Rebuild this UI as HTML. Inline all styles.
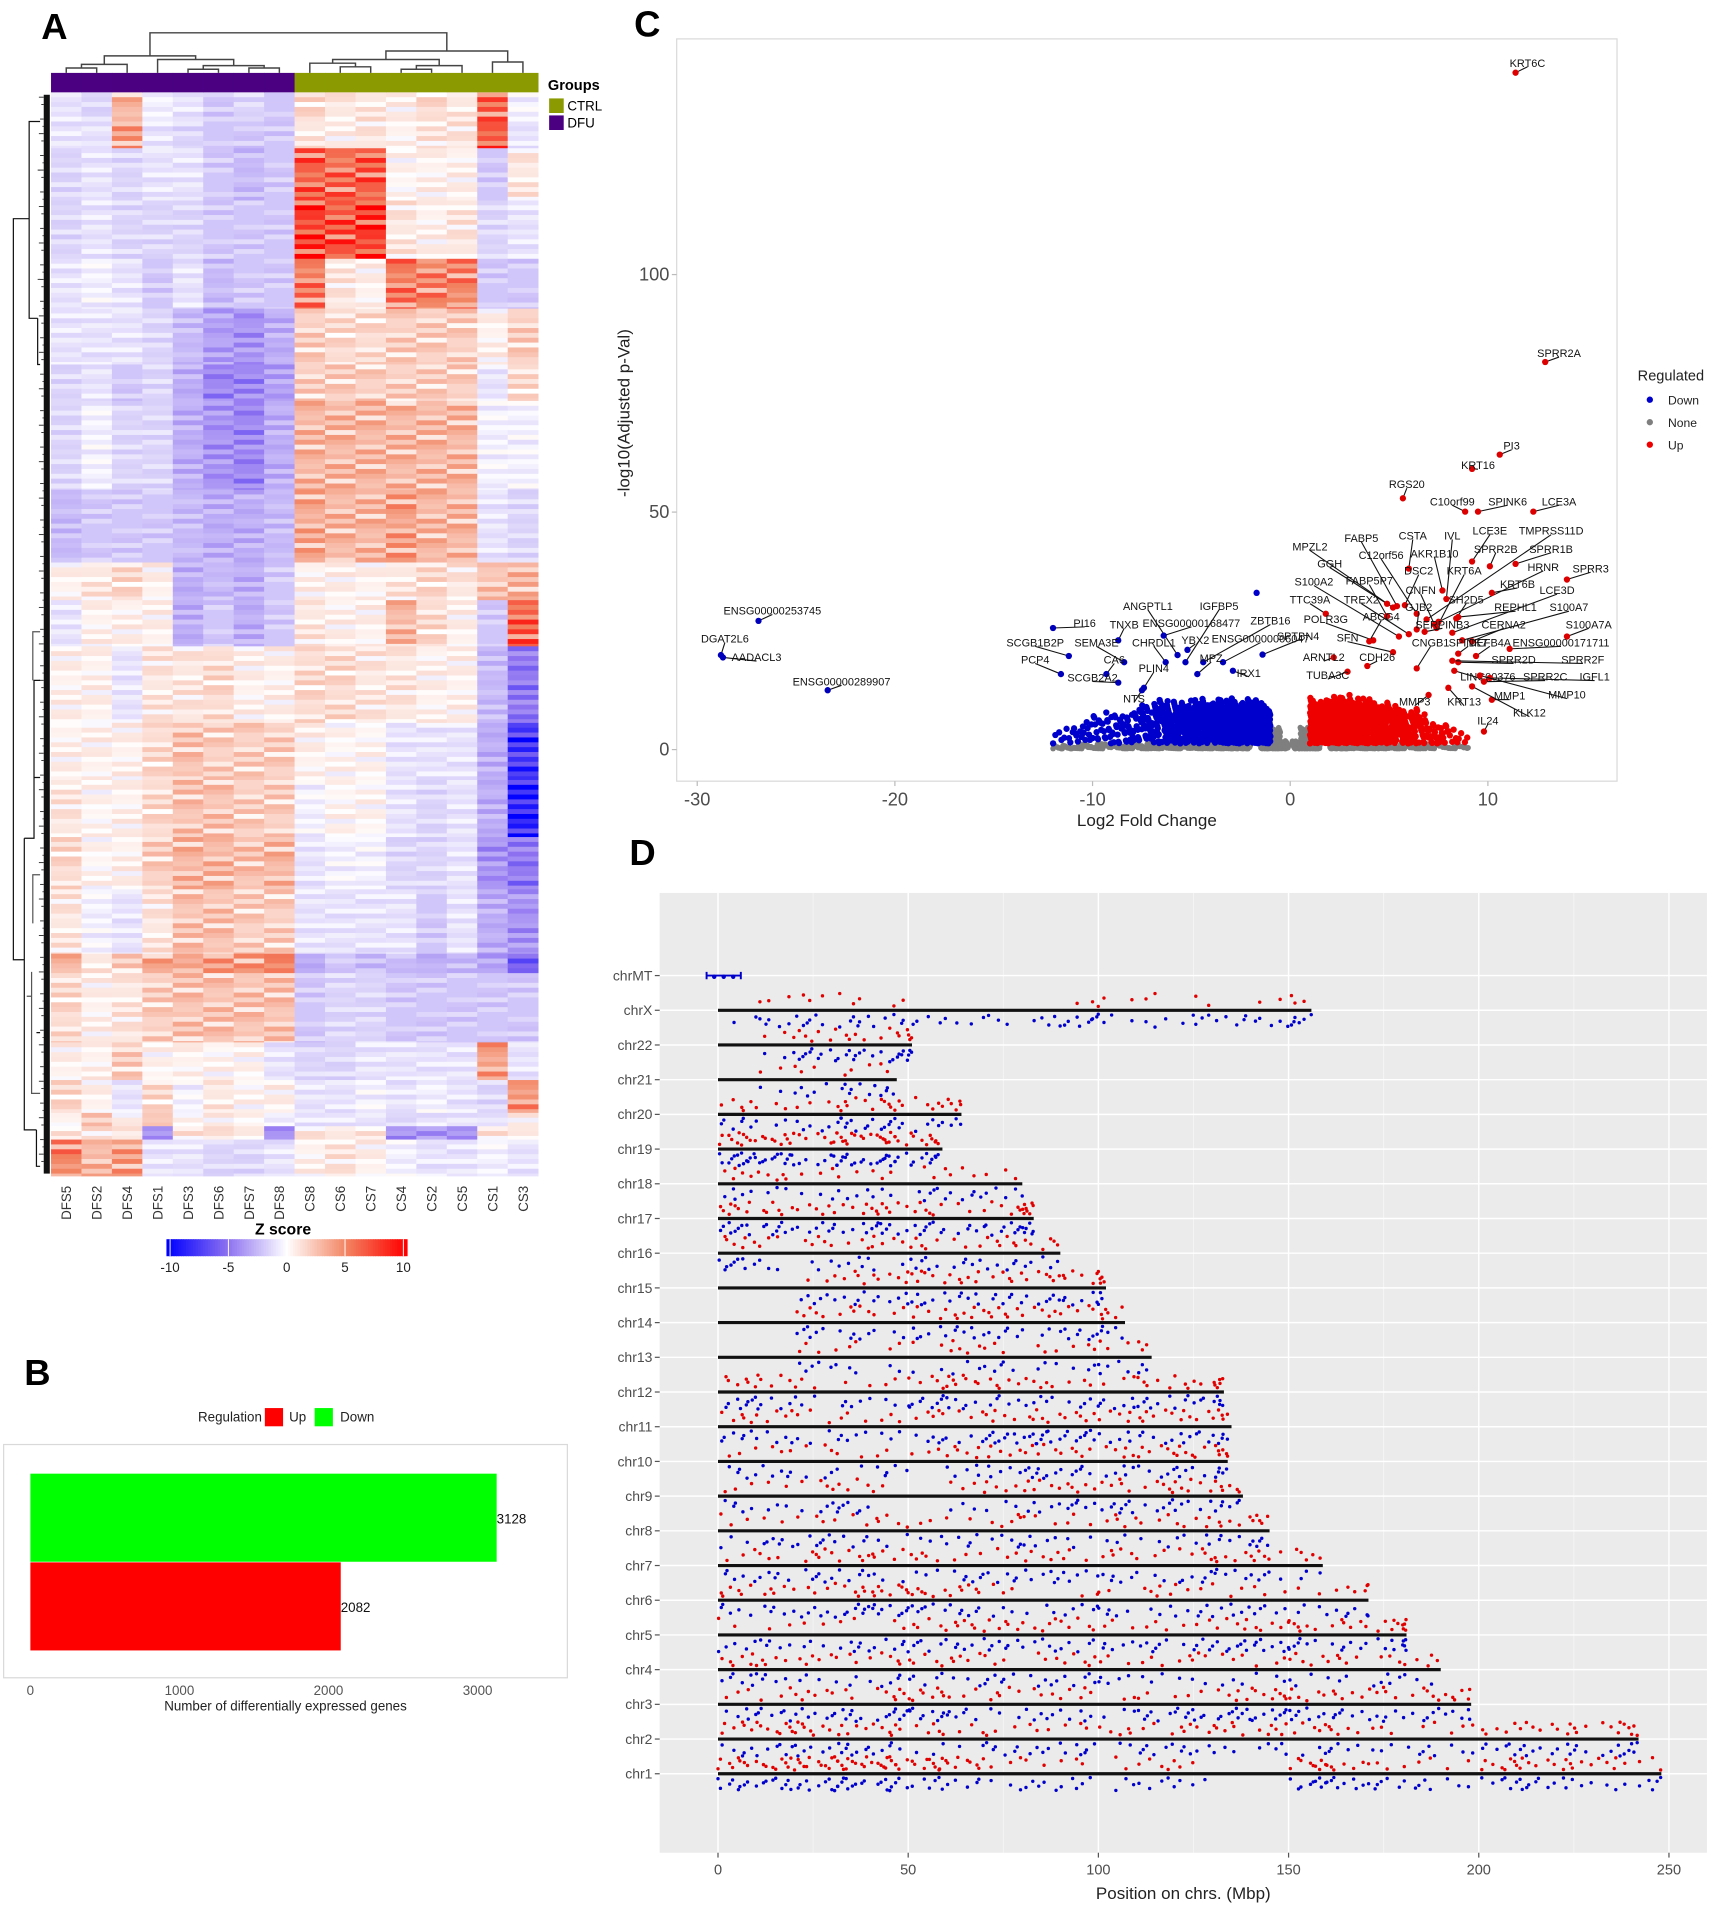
<!DOCTYPE html>
<html><head><meta charset="utf-8"><style>
html,body{margin:0;padding:0;background:#fff}
svg{display:block}
text{font-family:"Liberation Sans",Arial,sans-serif}
</style></head><body>
<svg id="fig" xmlns="http://www.w3.org/2000/svg" width="1713" height="1908" viewBox="0 0 1410 1570.5">
<rect x="0" y="0" width="1410" height="1571" fill="#fff"/>
<text x="34" y="32" font-size="30" font-weight="bold">A</text>
<text x="20" y="1140" font-size="30" font-weight="bold">B</text>
<text x="522" y="30" font-size="30" font-weight="bold">C</text>
<text x="518" y="712" font-size="30" font-weight="bold">D</text>

<g id="heat"></g>
<g id="bars"></g>
<g id="volc"></g>
<g id="chrom"></g>
</svg>
<script>
const NS="http://www.w3.org/2000/svg";
function mk(parent,tag,attrs,txt){const e=document.createElementNS(NS,tag);for(const k in attrs)e.setAttribute(k,attrs[k]);if(txt!==undefined)e.textContent=txt;parent.appendChild(e);return e;}

/* ================= PANEL A: HEATMAP ================= */
const sampleNames=["DFS5","DFS2","DFS4","DFS1","DFS3","DFS6","DFS7","DFS8","CS8","CS6","CS7","CS4","CS2","CS5","CS1","CS3"];
const sampleGroups=["DFU","DFU","DFU","DFU","DFU","DFU","DFU","DFU","CTRL","CTRL","CTRL","CTRL","CTRL","CTRL","CTRL","CTRL"];
const bandRows=[24,22,43,48,41,46,30,73,60,31,38,63,47,47,43,53,16,57,31,27,11,11,30];
const bandZ=[
[-1,-1.5,3,-0.5,-1,-2,-1.5,-2,1.5,1,1,0.5,1.5,1,6,-0.5],
[-1,-1,4,-1,-1.5,-2,-2,-2,1,0.5,1,0.5,1,1,7,-1],
[-1.5,-1,-1.5,-1,-1,-2,-2.5,-2,6.5,6,6.5,0.3,0.5,0.5,-2,1],
[-1.5,-1,-1.5,-1.5,-1.5,-2,-2,-2,8,7,8,1,0.5,1,-1.5,-1],
[-1,-0.5,-1,-2,-1,-2.5,-2,-2,5.5,1,0.5,5.5,5,5,-2,-2],
[-1,-1,-1,-1.5,-2.5,-3.5,-4,-3,2,1.5,1.5,2,2,2,0.5,2],
[-1.5,-1,-2,-1.5,-3,-4.5,-4.5,-3.5,2,2,2,2,2,2,-1,1.5],
[-1.5,-0.5,-1.5,-1.5,-3,-4,-4.5,-3,3,3,3,3,3,3,-0.5,-0.5],
[-2.5,-2,-2,-2,-2.5,-3,-3,-2.5,3.5,3,3,4,3,3,-1,-1.5],
[0.5,1,1.5,0.5,-3,-2.5,-3,-2,0.5,0.5,0.5,1,1.5,1,2.5,3],
[-1,0.5,0.5,0.5,-3,-2,-3,-2,1,0.5,0.5,3,1.5,0.5,-2,6.5],
[0.5,0.5,-1,1,1,1.5,0.5,0.5,1.5,1.5,1,1,0.5,0.5,-2.5,-5],
[0.5,0.5,0.5,1.5,2.5,2,2,2,0.5,0.3,0.3,-1,-1,-1,-3,-8],
[1,0.3,0.5,1.5,2.5,2.5,2,2,-0.5,0.3,0.3,-1,-1.5,-1,-3,-9],
[1.5,0.3,0.5,2,3,3,2.5,3,-1,-0.5,-0.5,-1.5,-1.5,-1,-4,-5],
[1,-0.5,-1,1,2.5,2.5,2,2,-1,-1,-1,-1,-2,-1,-3,-4],
[3,1,2,3.5,4,4,4,5.5,-3,-2,-2.5,-2.5,-3,-2.5,-3.5,-6],
[1.5,0.5,1,2,2.5,2.5,2.5,2.5,-2,-1.5,-1.5,-2,-2,-2,-2,-2],
[0.5,0.5,2,0.3,0.5,0.3,0.3,-1,-1.5,-1.5,-1,-1,-1,-1,4,-1],
[1.5,0.5,-1,1.5,-0.5,1,0.3,0.5,-1,-1,-0.5,-1,-0.5,-1,-1.5,4.5],
[0.5,2,0.5,2.5,0.3,0.5,0.3,-0.5,-1,-1,-1,-1.5,-1,-1,-1,0.5],
[1,1,1,-4,1,1,1,-4,1,1,1,-4,-4,-4,1,0.5],
[5,3,4,-1,-1,-1.5,-1.5,-1,0.5,1,0.5,-0.5,-1,-1,-0.5,-1]
];
const zTicks=[-10,-5,0,5,10];
const zStops=[[-10,[0,0,255]],[-5,[140,112,240]],[0,[255,255,255]],[5,[242,132,98]],[10,[255,0,0]]];
function zColor(z){z=Math.max(-10,Math.min(10,z));for(let i=0;i<zStops.length-1;i++){const a=zStops[i],b=zStops[i+1];if(z<=b[0]){const t=(z-a[0])/(b[0]-a[0]);const c=a[1].map((v,j)=>Math.round(v+(b[1][j]-v)*t));return `rgb(${c[0]},${c[1]},${c[2]})`;}}return "rgb(255,0,0)";}
(function(){
 const g=document.getElementById('heat');
 const HX=42,HY=76,CW=25.06,stripe=4;
 const tex=[1,0.7,1.25,0.85,1.1,0.6,1.3,0.9,1.05,0.75];
 const texAdd=[0,-0.6,0.5,-0.3,0.8,-0.9,0.3,0.6,-0.4,0.2];
 let y=HY;
 bandRows.forEach((n,b)=>{
   for(let c=0;c<sampleNames.length;c++){
     for(let r=0;r<n;r+=stripe){
       const h=Math.min(stripe,n-r);
       const k=(Math.floor((y+r)/stripe)+c*3)%tex.length;
       const cell=mk(g,'rect',{x:(HX+c*CW).toFixed(2),y:(y+r),width:(CW+0.3).toFixed(2),height:h+0.3,fill:zColor(bandZ[b][c]*tex[k]+texAdd[k])});
       
       
     }
   }
   y+=n;
 });
 sampleGroups.forEach((gr,c)=>{
   const r=mk(g,'rect',{x:(HX+c*CW).toFixed(2),y:60,width:CW+0.3,height:16,fill:gr==="DFU"?"#4b0082":"#8a9a00"});
   
   
 });
 sampleNames.forEach((s,c)=>{
   const cx=HX+c*CW+CW/2+4;
   const t=mk(g,'text',{x:cx,y:976,'font-size':11,fill:'#333','text-anchor':'end',transform:`rotate(-90 ${cx} 976)`},s);
   
   
 });
 function node(h,a,b){return {h,a,b};}
 const tree=node(27,node(46,node(53,node(56,0,1),2),node(49,3,node(54,node(57,4,5),node(56,6,7)))),node(42,node(49,node(52,8,node(55,9,10)),node(54,node(57,11,12),13)),node(51,14,15)));
 const dg=mk(g,'g',{stroke:'#444','stroke-width':1.2,fill:'none'});
 
 
 function draw(n){if(typeof n==='number')return {x:HX+n*CW+CW/2,y:60};const l=draw(n.a),r=draw(n.b);mk(dg,'path',{d:`M${l.x},${l.y}V${n.h}H${r.x}V${r.y}`});return {x:(l.x+r.x)/2,y:n.h};}
 draw(tree);
 const lg=mk(g,'g',{stroke:'#111','stroke-width':1,fill:'none'});
 
 
 mk(lg,'rect',{x:36,y:78,width:5,height:888,fill:'#111',stroke:'none'});
 for(let yy=80;yy<965;yy+=6){mk(lg,'line',{x1:32+((yy*7)%5),x2:36,y1:yy,y2:yy,stroke:'#333','stroke-width':0.8});}
 mk(lg,'path',{d:'M33,100H24V262H31M24,180H11V790H20M20,690V930H30M20,690H28V560H33M28,640H33M30,930V960H33M30,850H33M31,262V300H33'});
 mk(lg,'path',{d:'M27,560V520H33M27,760V720H33M26,800V900H33M22,820H26M31,140H33M31,230H33',stroke:'#555'});
 const L=mk(g,'g',{});
 
 
 mk(L,'text',{x:451,y:74,'font-size':12,'font-weight':'bold'},'Groups');
 mk(L,'rect',{x:452,y:81,width:12,height:12,fill:'#8a9a00'});
 mk(L,'text',{x:467,y:91,'font-size':11},'CTRL');
 mk(L,'rect',{x:452,y:95,width:12,height:12,fill:'#4b0082'});
 mk(L,'text',{x:467,y:105,'font-size':11},'DFU');
 const CB=mk(g,'g',{});
 
 
 mk(CB,'text',{x:233,y:1016,'font-size':13,'font-weight':'bold','text-anchor':'middle'},'Z score');
 const cx0=137,cx1=335;
 for(let i=0;i<99;i++){const z=-10+20*i/98;mk(CB,'rect',{x:cx0+(cx1-cx0)*i/99,y:1020,width:(cx1-cx0)/99+0.5,height:14,fill:zColor(z)});}
 zTicks.forEach(v=>{const x=cx0+3+(v+10)/20*(cx1-cx0-6);mk(CB,'line',{x1:x,x2:x,y1:1020,y2:1034,stroke:'#fff','stroke-width':0.8});const t=mk(CB,'text',{x:x,y:1047,'font-size':11,'text-anchor':'middle',fill:'#222'},String(v));});
})();

/* ================= PANEL B: BAR CHART ================= */
const barCategories=["Down","Up"];
const barValues=[3128,2082];
const barColors=["#00ff00","#ff0000"];
const barTicks=[0,1000,2000,3000];
(function(){
 const g=document.getElementById('bars');
 const x0=25,pxPer=0.1227;const X=v=>x0+v*pxPer;
 mk(g,'rect',{x:3,y:1189,width:464,height:192,fill:'#fff',stroke:'#d9d9d9','stroke-width':1});
 barCategories.forEach((c,i)=>{
   const y=1213+i*73;
   const r=mk(g,'rect',{x:X(0),y:y,width:X(barValues[i])-X(0),height:72.5,fill:barColors[i]});
   
   
   const t=mk(g,'text',{x:X(barValues[i]),y:y+41,'font-size':11,fill:'#111'},String(barValues[i]));
   
   
 });
 barTicks.forEach(v=>{const t=mk(g,'text',{x:X(v),y:1395,'font-size':11,'text-anchor':'middle',fill:'#555'},String(v));});
 const tt=mk(g,'text',{x:235,y:1408,'font-size':11,'text-anchor':'middle',fill:'#222'},'Number of differentially expressed genes');
 
 const L=mk(g,'g',{});
 
 mk(L,'text',{x:163,y:1170,'font-size':11,fill:'#222'},'Regulation');
 mk(L,'rect',{x:218,y:1159,width:15,height:15,fill:'#ff0000'});
 mk(L,'text',{x:238,y:1170,'font-size':11,fill:'#222'},'Up');
 mk(L,'rect',{x:259,y:1159,width:15,height:15,fill:'#00ff00'});
 mk(L,'text',{x:280,y:1170,'font-size':11,fill:'#222'},'Down');
})();

/* ================= PANEL C: VOLCANO ================= */
const xTicksC=[-30,-20,-10,0,10];
const yTicksC=[0,50,100];
const downBinX=[-11.75,-11.25,-10.75,-10.25,-9.75,-9.25,-8.75,-8.25,-7.75,-7.25,-6.75,-6.25,-5.75,-5.25,-4.75,-4.25,-3.75,-3.25,-2.75,-2.25,-1.75,-1.25];
const downBinH=[5,6,6,7,8,8,9,9,10,10,11,11,11,11,11,11,11,11,11,11,11,10];
const downBinN=[4,5,6,8,10,12,14,18,22,26,32,38,45,52,60,66,72,78,84,90,95,95];
const upBinX=[1.25,1.75,2.25,2.75,3.25,3.75,4.25,4.75,5.25,5.75,6.25,6.75,7.25,7.75,8.25,8.75];
const upBinH=[11,11,11.5,11.5,11.5,11,11,10.5,10,9,9,8,7,6,5,4];
const upBinN=[110,110,105,100,95,85,75,65,50,40,30,22,15,10,6,4];
const noneBinX=[-11.5,-10,-8,-6,-4,-2.5,-1.25,-0.75,-0.3,0.3,0.75,1.25,2.5,4,6,8];
const noneBinW=[1,2,2,2,2,1,0.5,0.5,0.4,0.4,0.5,0.5,1,2,2,2];
const noneBinH=[1.2,1.4,1.6,1.8,2,2.5,7,5,2,2,5,7,2.5,2,1.6,1.2];
const noneBinN=[20,40,60,80,100,80,120,100,40,40,100,120,80,100,60,30];
const genes=[
["KRT6C",11.4,142.5,12.0,144.5,"Up"],["SPRR2A",12.9,81.6,13.6,83.4,"Up"],["PI3",10.6,62.1,11.2,63.9,"Up"],["KRT16",9.2,59.1,9.5,59.8,"Up"],
["RGS20",5.7,52.9,5.9,55.8,"Up"],["C10orf99",8.85,50.1,8.2,52.2,"Up"],["SPINK6",9.5,50.1,11.0,52.2,"Up"],["LCE3A",12.3,50.1,13.6,52.2,"Up"],
["LCE3E",9.2,39.6,10.1,46.0,"Up"],["TMPRSS11D",6.9,27.4,13.2,46.0,"Up"],["FABP5",5.4,30.2,3.6,44.5,"Up"],["CSTA",6.0,38.1,6.2,45.0,"Up"],
["IVL",7.9,31.7,8.2,45.0,"Up"],["MPZL2",5.2,29.9,1.0,42.7,"Up"],["SPRR2B",10.1,38.6,10.4,42.2,"Up"],["SPRR1B",11.4,39.1,13.2,42.2,"Up"],
["C12orf56",6.4,28.6,4.6,40.9,"Up"],["AKR1B10",7.7,33.5,7.3,41.2,"Up"],["GGH",4.9,30.7,2.0,39.1,"Up"],["DSC2",5.8,30.4,6.5,37.6,"Up"],
["KRT6A",7.4,25.6,8.8,37.6,"Up"],["HRNR",7.5,26.9,12.8,38.4,"Up"],["SPRR3",14.0,35.8,15.2,38.1,"Up"],["S100A2",5.5,23.8,1.2,35.3,"Up"],
["FABP5P7",4.9,28.1,4.0,35.5,"Up"],["CNFN",7.3,26.3,6.6,33.5,"Up"],["KRT6B",10.2,33.0,11.5,34.8,"Up"],["LCE3D",8.2,24.6,13.5,33.5,"Up"],
["TTC39A",1.8,28.6,1.0,31.5,"Up"],["TREX2",6.0,24.3,3.6,31.5,"Up"],["GJB2",6.4,25.3,6.5,29.9,"Up"],["SH2D5",8.4,27.6,8.9,31.5,"Up"],
["REPHL1",8.5,27.9,11.4,29.9,"Up"],["S100A7",8.7,23.0,14.1,29.9,"Up"],["POLR3G",4.2,23.0,1.8,27.4,"Up"],["ABCG4",4.0,22.8,4.6,27.9,"Up"],
["SERPINB3",6.8,24.8,7.7,26.3,"Up"],["CERNA2",9.2,22.8,10.8,26.3,"Up"],["S100A7A",14.0,23.8,15.1,26.3,"Up"],["SFN",5.2,20.5,2.9,23.5,"Up"],
["SPTBN4",-1.4,20.0,0.4,23.8,"Down"],["CNGB1",6.4,17.1,7.1,22.5,"Up"],["SPINK7",8.5,20.2,9.0,22.5,"Up"],["DEFB4A",9.4,19.7,10.1,22.5,"Up"],
["ENSG00000171711",11.1,21.2,13.7,22.5,"Up"],["ARNTL2",2.2,19.4,1.7,19.4,"Up"],["CDH26",3.9,17.6,4.4,19.4,"Up"],["SPRR2D",8.5,18.4,11.3,18.9,"Up"],
["SPRR2F",8.2,18.7,14.8,18.9,"Up"],["TUBA3C",2.9,16.4,1.9,15.6,"Up"],["LINC00376",8.3,16.6,10.0,15.3,"Up"],["SPRR2C",9.8,14.3,12.9,15.3,"Up"],
["IGFL1",10.1,15.1,15.4,15.3,"Up"],["MMP3",7.0,11.5,6.3,10.0,"Up"],["KRT13",8.0,13.0,8.8,10.0,"Up"],["MMP1",10.2,10.5,11.1,11.3,"Up"],
["MMP10",9.6,15.6,14.0,11.5,"Up"],["KLK12",9.2,13.3,12.1,7.7,"Up"],["IL24",9.8,3.8,10.0,6.1,"Up"],
["ENSG00000253745",-26.9,27.1,-26.2,29.2,"Down"],["DGAT2L6",-28.8,19.9,-28.6,23.3,"Down"],["AADACL3",-28.7,19.4,-27.0,19.4,"Down"],
["ENSG00000289907",-23.4,12.5,-22.7,14.3,"Down"],["ANGPTL1",-5.7,19.9,-7.2,30.2,"Down"],["IGFBP5",-5.3,18.4,-3.6,30.2,"Down"],
["PI16",-12.0,25.6,-10.4,26.6,"Down"],["TNXB",-8.7,23.0,-8.4,26.3,"Down"],["ENSG00000168477",-6.4,24.0,-5.0,26.6,"Down"],
["ZBTB16",-4.4,18.4,-1.0,27.1,"Down"],["SCGB1B2P",-11.2,19.7,-12.9,22.5,"Down"],["SEMA3E",-8.4,18.4,-9.8,22.5,"Down"],
["CHRDL1",-6.3,18.4,-6.9,22.5,"Down"],["YBX2",-5.2,21.0,-4.8,23.0,"Down"],["ENSG00000006047",-3.4,18.4,-1.5,23.3,"Down"],
["MPZ",-4.7,15.9,-4.0,19.2,"Down"],["PCP4",-11.6,15.9,-12.9,18.9,"Down"],["CA6",-9.3,15.9,-8.9,18.9,"Down"],["IRX1",-2.9,16.6,-2.1,16.1,"Down"],
["PLIN4",-7.4,13.0,-6.9,17.1,"Down"],["SCGB2A2",-8.7,14.1,-10.0,15.1,"Down"],["NTS",-7.5,12.5,-7.9,10.7,"Down"]
];
const extraDown=[[-1.7,33.0]];
(function(){
 const g=document.getElementById('volc');
 const X=v=>1062+v*16.27, Y=v=>617-v*3.91;
 mk(g,'rect',{x:557,y:32,width:774,height:611,fill:'#fff',stroke:'#d9d9d9','stroke-width':1});
 xTicksC.forEach(v=>{mk(g,'line',{x1:X(v),x2:X(v),y1:643,y2:647,stroke:'#bbb'});const t=mk(g,'text',{x:X(v),y:663,'font-size':15,'text-anchor':'middle',fill:'#4d4d4d'},String(v));});
 yTicksC.forEach(v=>{mk(g,'line',{x1:553,x2:557,y1:Y(v),y2:Y(v),stroke:'#bbb'});const t=mk(g,'text',{x:551,y:Y(v)+5,'font-size':15,'text-anchor':'end',fill:'#4d4d4d'},String(v));});
 const xt=mk(g,'text',{x:944,y:680,'font-size':14,'text-anchor':'middle',fill:'#222'},'Log2 Fold Change');
 
 const yt=mk(g,'text',{x:518,y:340,'font-size':14,'text-anchor':'middle',fill:'#222',transform:'rotate(-90 518 340)'},'-log10(Adjusted p-Val)');
 
 const frac=v=>v-Math.floor(v);
 function cloud(xs,ws,hs,ns,col,name,pw,r,base){
   const cg=mk(g,'g',{fill:col});
   
   
   xs.forEach((cx,b)=>{for(let i=0;i<ns[b];i++){const u=frac(i*0.6180339+b*0.137),v=frac(i*0.7548777+b*0.291);const hh=hs[b]*(0.8+0.2*frac(i*0.3819+b*0.53));const x=cx-ws[b]/2+u*ws[b];const y=base+(hh-base)*Math.pow(v,pw);const d=mk(cg,'circle',{cx:X(x).toFixed(1),cy:Y(y).toFixed(1),r:r});}});
 }
 cloud(noneBinX,noneBinW,noneBinH,noneBinN,'#7f7f7f','none-points',1.6,2.3,0.2);
 cloud(downBinX,downBinX.map(()=>0.5),downBinH,downBinN,'#0000cc','down-points',1.0,2.6,1.3);
 cloud(upBinX,upBinX.map(()=>0.5),upBinH,upBinN,'#ee0000','up-points',1.0,2.6,1.3);
 extraDown.forEach(p=>{const d=mk(g,'circle',{cx:X(p[0]),cy:Y(p[1]),r:2.6,fill:'#0000cc'});});
 const lg=mk(g,'g',{});
 
 genes.forEach(gn=>{
   const px=X(gn[1]),py=Y(gn[2]),lx=X(gn[3]),ly=Y(gn[4]);
   mk(lg,'line',{x1:px,y1:py,x2:lx,y2:ly+3,stroke:'#111','stroke-width':0.9});
   const d=mk(lg,'circle',{cx:px,cy:py,r:2.6,fill:gn[5]==="Up"?'#dd0000':'#0000bb'});
   
   const t=mk(lg,'text',{x:lx,y:ly+3,'font-size':9,'text-anchor':'middle',fill:'#111'},gn[0]);
   
 });
 const L=mk(g,'g',{});
 
 mk(L,'text',{x:1348,y:313,'font-size':12,fill:'#222'},'Regulated');
 [["Down","#0000cc"],["None","#7f7f7f"],["Up","#ee0000"]].forEach((e,i)=>{mk(L,'circle',{cx:1358,cy:329+i*18.5,r:2.6,fill:e[1]});mk(L,'text',{x:1373,y:333+i*18.5,'font-size':10,fill:'#222'},e[0]);});
})();

/* ================= PANEL D: CHROMOSOME POSITIONS ================= */
const chrNames=["chr1","chr2","chr3","chr4","chr5","chr6","chr7","chr8","chr9","chr10","chr11","chr12","chr13","chr14","chr15","chr16","chr17","chr18","chr19","chr20","chr21","chr22","chrX","chrMT"];
const chrLength=[248,242,198,190,181,171,159,145,138,134,135,133,114,107,102,90,83,80,59,64,47,51,156,0];
const upPer10Mb=["5678875212131006422154432","4553432222323443321233442","22324523231123543334","4332333223223223323","1111134333222334343","432464420113222122","2243332232323343","212231132232333","21231023433344","22211243333444","33222323433433","43211353322334","002211322222","00332344334","00134443443","423233244","543354235","33122222","763786","3224533","01221","023332","0222100002111012",""];
const downPer10Mb=["5657643233232006543245323","3445321434143232323244442","34355642332456554343","4322332433322222232","3324443433343554333","333564422332343231","3343224343324332","244322333222333","32250022345334","33213033543333","43232426753343","53231643334443","003211232232","00432443253","00334444442","622314333","653465354","32132433","983786","4236532","01343","025562","1344332236223334",""];
const chrTicks=[0,50,100,150,200,250];
(function(){
 const g=document.getElementById('chrom');
 const X=v=>591+v*3.131;
 const rowY=i=>1460-i*28.565;
 mk(g,'rect',{x:543,y:735,width:862,height:790,fill:'#ebebeb'});
 [25,75,125,175,225].forEach(v=>mk(g,'line',{x1:X(v),x2:X(v),y1:735,y2:1525,stroke:'#f7f7f7','stroke-width':0.6}));
 chrTicks.forEach(v=>mk(g,'line',{x1:X(v),x2:X(v),y1:735,y2:1525,stroke:'#fff','stroke-width':1.2}));
 chrNames.forEach((c,i)=>mk(g,'line',{x1:543,x2:1405,y1:rowY(i),y2:rowY(i),stroke:'#fff','stroke-width':1.2}));
 chrTicks.forEach(v=>{mk(g,'line',{x1:X(v),x2:X(v),y1:1525,y2:1529,stroke:'#555'});const t=mk(g,'text',{x:X(v),y:1543,'font-size':12,'text-anchor':'middle',fill:'#4d4d4d'},String(v));});
 const xt=mk(g,'text',{x:974,y:1563,'font-size':14,'text-anchor':'middle',fill:'#222'},'Position on chrs. (Mbp)');
 
 const frac=v=>v-Math.floor(v);
 chrNames.forEach((c,i)=>{
   const y=rowY(i);
   mk(g,'line',{x1:539,x2:543,y1:y,y2:y,stroke:'#555'});
   const t=mk(g,'text',{x:537,y:y+4,'font-size':11.5,'text-anchor':'end',fill:'#4d4d4d'},c);
   
   const rg=mk(g,'g',{});
   
   const draw=(str,sign,col)=>{for(let b=0;b<str.length;b++){const n=Math.round(+str[b]*1.5);const w=Math.min(10,chrLength[i]-b*10);for(let k=0;k<n;k++){const u=frac(k*0.6180339+b*0.377+i*0.11+Math.sin(k*3.7+b)*0.08),v=frac(k*0.7548777+b*0.213+i*0.07+Math.cos(k*2.3+b*1.7)*0.1);const px=X(b*10+u*w);const py=y+sign*(3+v*11);const d=mk(rg,'circle',{cx:px.toFixed(1),cy:py.toFixed(1),r:1.4,fill:col});}}};
   draw(upPer10Mb[i],-1,'#e00000');
   draw(downPer10Mb[i],1,'#0000cc');
   if(chrLength[i]>0){
     const ln=mk(rg,'line',{x1:X(0),x2:X(chrLength[i]),y1:y,y2:y,stroke:'#111','stroke-width':2.6});
     
   }
 });
 const mt=rowY(23);
 const m=mk(g,'path',{d:`M${X(-3)},${mt}H${X(6)}M${X(-3)},${mt-3}V${mt+3}M${X(6)},${mt-3}V${mt+3}`,stroke:'#0000cc','stroke-width':1.6,fill:'none'});
 
 [-1,1.5,4].forEach(v=>mk(g,'circle',{cx:X(v),cy:mt+1,r:1.8,fill:'#0000cc'}));
})();
</script>
</body></html>
